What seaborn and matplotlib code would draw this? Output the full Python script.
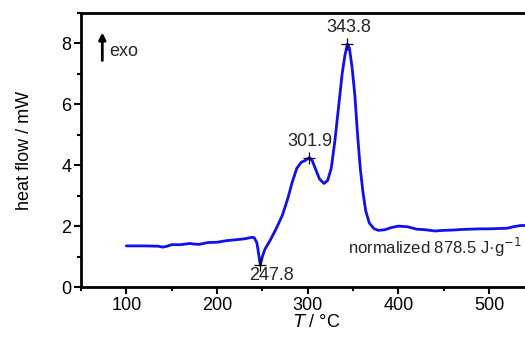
import matplotlib
matplotlib.use("Agg")
import matplotlib.pyplot as plt
import seaborn as sns
import pandas as pd
from matplotlib.ticker import MultipleLocator

temperature = [100, 120, 135, 140, 145, 150, 160, 170, 175, 180, 190, 200, 210, 220, 230, 238, 241, 244,
               247.8, 250, 253, 258, 265, 272, 278, 283, 288, 293, 297, 301.9, 305, 309, 313, 318, 322,
               326, 330, 334, 338, 341, 343.8, 346, 349, 352, 355, 358, 361, 364, 368, 373, 378, 385,
               392, 400, 410, 420, 430, 440, 450, 460, 470, 480, 490, 500, 510, 520, 527, 535, 545]
heat_flow = [1.35, 1.35, 1.34, 1.31, 1.34, 1.39, 1.39, 1.43, 1.41, 1.40, 1.46, 1.47, 1.52, 1.55, 1.58, 1.63, 1.62, 1.45,
             0.72, 1.00, 1.25, 1.50, 1.90, 2.35, 2.90, 3.45, 3.90, 4.10, 4.15, 4.25, 4.15, 3.85, 3.55, 3.40, 3.50,
             3.90, 4.80, 5.90, 7.00, 7.60, 7.98, 7.85, 7.20, 6.30, 5.00, 3.90, 3.10, 2.50, 2.10, 1.92, 1.86, 1.88,
             1.95, 2.00, 1.98, 1.90, 1.88, 1.84, 1.86, 1.87, 1.89, 1.90, 1.91, 1.91, 1.92, 1.93, 1.98, 2.02, 2.02]

peak_labels = ["247.8", "301.9", "343.8"]
peak_temps = [247.8, 301.9, 343.8]
peak_values = [0.72, 4.25, 7.98]

x_ticks = [100, 200, 300, 400, 500]
y_ticks = [0, 2, 4, 6, 8]

sns.set_theme(style="ticks")
plt.rcParams['font.family'] = ['Liberation Sans', 'DejaVu Sans']

fig = plt.figure(figsize=(5.25, 3.37), dpi=100)
ax = fig.add_axes([81/525, 1 - 287/337, (552.5 - 81)/525, (287 - 13)/337])

df = pd.DataFrame({"T": temperature, "hf": heat_flow})
sns.lineplot(data=df, x="T", y="hf", ax=ax, color="#1010ee", linewidth=2, sort=False)

ax.plot(peak_temps, peak_values, linestyle="none", marker="+", color="black", markersize=9, markeredgewidth=0.9)

ax.set_xlim(50, 570)
ax.set_ylim(0, 9)
ax.set_xticks(x_ticks)
ax.set_yticks(y_ticks)
ax.xaxis.set_minor_locator(MultipleLocator(50))
ax.yaxis.set_minor_locator(MultipleLocator(1))
ax.tick_params(which="major", direction="out", length=5, width=1.5, labelsize=13, colors="black", pad=2)
ax.tick_params(which="minor", direction="out", length=3, width=1.5, colors="black")
for side in ["left", "bottom", "top"]:
    ax.spines[side].set_linewidth(2)
    ax.spines[side].set_color("black")
ax.spines["right"].set_visible(False)

ax.set_xlabel(r"$\it{T}$ / °C", fontsize=13, labelpad=0, color="black")
ax.set_ylabel("heat flow / mW", fontsize=13, labelpad=20, color="black")

ax.text(260, peak_values[0] - 0.05, peak_labels[0], ha="center", va="top", fontsize=13)
ax.text(peak_temps[1] + 1, peak_values[1] + 0.25, peak_labels[1], ha="center", va="bottom", fontsize=13)
ax.text(peak_temps[2] + 2, peak_values[2] + 0.25, peak_labels[2], ha="center", va="bottom", fontsize=13)

ax.text(345, 1.3, "normalized 878.5 J·g$^{-1}$", ha="left", va="center", fontsize=12)

ax.annotate("", xy=(73.5, 8.45), xytext=(73.5, 7.35),
            arrowprops=dict(arrowstyle="-|>", color="black", lw=2, mutation_scale=10))
ax.text(81, 7.75, "exo", ha="left", va="center", fontsize=13)

fig.savefig("out.png", dpi=100)
